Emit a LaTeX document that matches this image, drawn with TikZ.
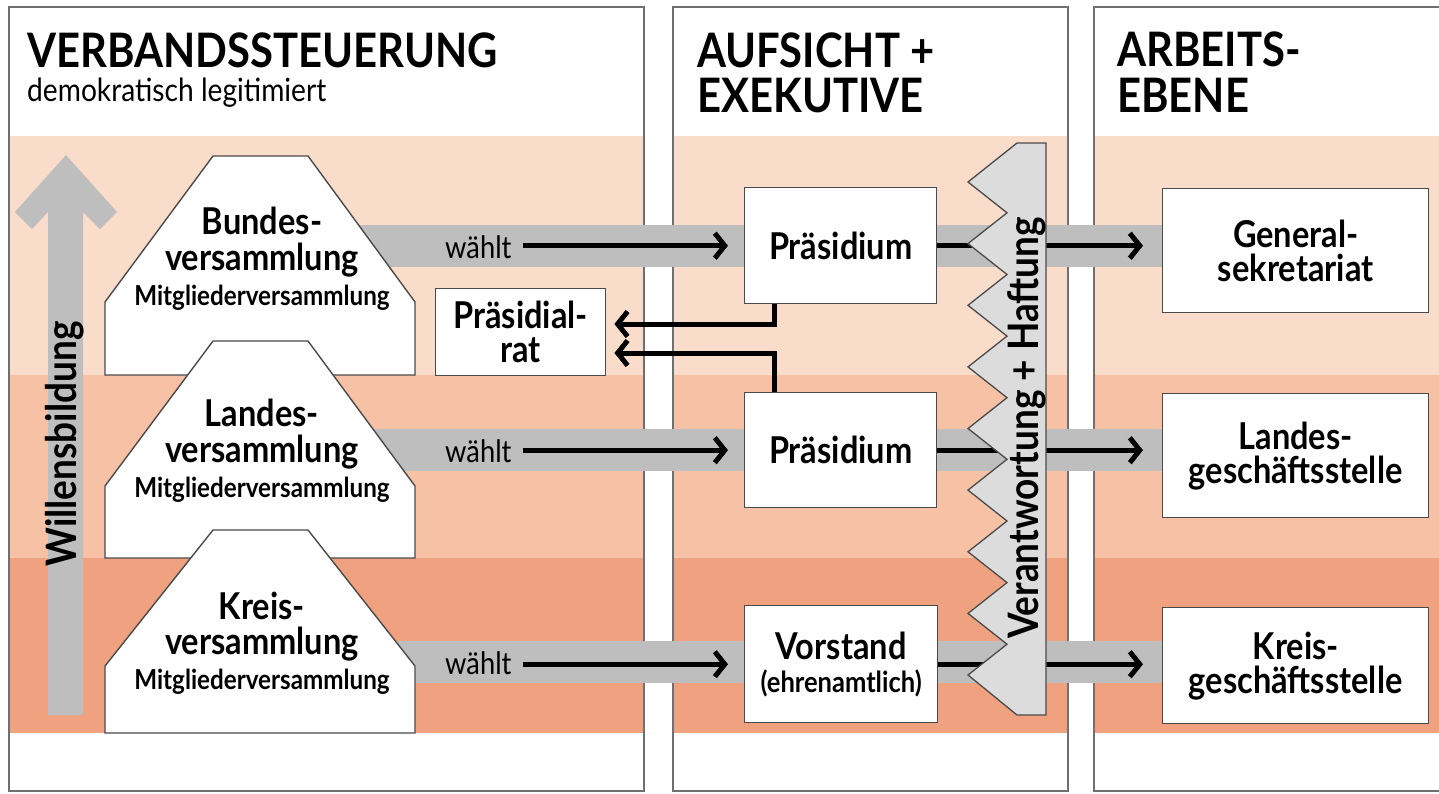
\documentclass[tikz,border=0pt]{standalone}
\usepackage{fontspec}
\setmainfont{Lato}[FakeStretch=0.88]
\usetikzlibrary{arrows.meta}
\definecolor{bandA}{HTML}{FADCCA}
\definecolor{bandB}{HTML}{F6C1A5}
\definecolor{bandC}{HTML}{F0A280}
\definecolor{gband}{HTML}{BEBEBE}
\definecolor{zigfill}{HTML}{DCDCDC}
\definecolor{pborder}{HTML}{707070}
\definecolor{bborder}{HTML}{4A4A4A}
\newcommand\fTitle{\fontsize{47.5}{47.5}\selectfont\bfseries}
\newcommand\fSub{\fontsize{32}{32}\selectfont}
\newcommand\fBig{\fontsize{37}{34}\selectfont\bfseries}
\newcommand\fMit{\fontsize{27.5}{27.5}\selectfont\bfseries}
\newcommand\fWa{\fontsize{31}{31}\selectfont}
\newcommand\fRot{\fontsize{42}{42}\selectfont\bfseries}
\tikzset{
  panel/.style={draw=pborder, line width=1.5pt},
  box/.style={draw=bborder, line width=1.4pt, fill=white, inner sep=0pt, align=center, anchor=north west, font=\fBig},
  shapeline/.style={draw=bborder, line width=1.4pt, fill=white},
  arr/.style={line width=5pt, -{Straight Barb[length=10pt,width=25pt]}},
  lbl/.style={inner sep=0pt, anchor=base},
  ttl/.style={inner sep=0pt, anchor=base west, font=\fTitle},
  wa/.style={inner sep=0pt, anchor=base west, font=\fWa},
}
\begin{document}
\begin{tikzpicture}[x=1pt,y=-1pt]
\useasboundingbox (0,0) rectangle (1439,793);
\fill[white] (0,0) rectangle (1439,793);
% colour stripes inside the panels
\begin{scope}
\clip (9,7) rectangle (644,791) (673,7) rectangle (1068,791) (1094,7) rectangle (1450,791);
\fill[bandA] (0,136) rectangle (1450,375);
\fill[bandB] (0,375) rectangle (1450,558);
\fill[bandC] (0,558) rectangle (1450,733);
\end{scope}
\draw[panel] (9,7) rectangle (644,791);
\draw[panel] (673,7) rectangle (1068,791);
\draw[panel] (1094,7) rectangle (1450,791);
% titles
\node[ttl] (t1) at (27,67) {VERBANDSSTEUERUNG};
\node[inner sep=0pt, anchor=base west, font=\fSub] (t1s) at (27,101) {demokratisch legitimiert};
\node[ttl] (t2) at (697,67) {AUFSICHT +};
\node[ttl] (t2b) at (697,112) {EXEKUTIVE};
\node[ttl] (t3) at (1117,66) {ARBEITS-};
\node[ttl] (t3b) at (1117,112) {EBENE};
% grey bands
\fill[gband] (300,225) rectangle (744,267);
\fill[gband] (936,225) rectangle (1162,267);
\fill[gband] (300,429) rectangle (744,471);
\fill[gband] (936,429) rectangle (1162,471);
\fill[gband] (300,641) rectangle (744,683);
\fill[gband] (936,641) rectangle (1162,683);
% Willensbildung arrow
\fill[gband] (66,155) -- (15,212) -- (32,229) -- (48,212) -- (48,715) -- (83,715) -- (83,212) -- (100,229) -- (117,212) -- cycle;
\node[rotate=90, inner sep=0pt, font=\fRot] (wb) at (65,444) {Willensbildung};
% assemblies
\path[shapeline] (213,156) -- (308,156) -- (415,302) -- (415,375) -- (105,375) -- (105,302) -- cycle;
\node[lbl, font=\fBig] (bv1) at (262,234) {Bundes-};
\node[lbl, font=\fBig] (bv2) at (262,270) {versammlung};
\node[lbl, font=\fMit] (bv3) at (262,305) {Mitgliederversammlung};
\path[shapeline] (213,341) -- (308,341) -- (415,486) -- (415,558) -- (105,558) -- (105,486) -- cycle;
\node[lbl, font=\fBig] (lv1) at (262,426) {Landes-};
\node[lbl, font=\fBig] (lv2) at (262,462) {versammlung};
\node[lbl, font=\fMit] (lv3) at (262,497) {Mitgliederversammlung};
\path[shapeline] (213,530) -- (308,530) -- (415,666) -- (415,733) -- (105,733) -- (105,666) -- cycle;
\node[lbl, font=\fBig] (kv1) at (262,619) {Kreis-};
\node[lbl, font=\fBig] (kv2) at (262,654) {versammlung};
\node[lbl, font=\fMit] (kv3) at (262,689) {Mitgliederversammlung};
% boxes
\node[box, minimum width=192pt, minimum height=116pt] (pr1) at (744,187) {Präsidium};
\node[box, minimum width=192pt, minimum height=115pt] (pr2) at (744,392) {Präsidium};
\node[box, minimum width=193pt, minimum height=117pt] (vor) at (744,605) {Vorstand\\[-1pt]{\fontsize{29}{29}\selectfont\bfseries(ehrenamtlich)}};
\node[box, minimum width=170pt, minimum height=87pt] (prat) at (435,288) {Präsidial-\\rat};
\node[box, minimum width=266pt, minimum height=124pt] (gen) at (1162,188) {General-\\sekretariat};
\node[box, minimum width=266pt, minimum height=124pt] (lgs) at (1162,393) {Landes-\\geschäftsstelle};
\node[box, minimum width=266pt, minimum height=116pt] (kgs) at (1162,607) {Kreis-\\geschäftsstelle};
% wählt arrows
\node[wa] (w1) at (445,258) {wählt};
\node[wa] (w2) at (445,462) {wählt};
\node[wa] (w3) at (445,674) {wählt};
\draw[arr, shorten >=16pt] ([xshift=11pt]w1.east |- pr1.west) -- (pr1.west);
\draw[arr, shorten >=16pt] ([xshift=11pt]w2.east |- pr2.west) -- (pr2.west);
\draw[arr, shorten >=16pt] ([xshift=11pt]w3.east |- vor.west) -- (vor.west);
% to Präsidialrat
\coordinate (c1) at (774,324);
\coordinate (c2) at (774,353);
\draw[arr, shorten >=8pt] (pr1.south -| c1) |- (prat.east |- c1);
\draw[arr, shorten >=8pt] (pr2.north -| c2) |- (prat.east |- c2);
% to working level
\draw[arr, shorten >=19pt] (pr1.east) -- (gen.west |- pr1.east);
\draw[arr, shorten >=19pt] (pr2.east) -- (lgs.west |- pr2.east);
\draw[arr, shorten >=19pt] (vor.east) -- (kgs.west |- vor.east);
% responsibility zigzag
\path[draw=bborder, line width=1.3pt, fill=zigfill]
  (1017,143) -- (968,182) -- (1007,212.8) -- (968,243.6) -- (1007,274.5) -- (968,305.3)
  -- (1007,336.1) -- (968,366.9) -- (1007,397.7) -- (968,428.5) -- (1007,459.3)
  -- (968,490.1) -- (1007,521) -- (968,551.8) -- (1007,582.6) -- (968,613.4)
  -- (1007,644.2) -- (968,675) -- (1017,715) -- (1046,715) -- (1046,143) -- cycle;
\node[rotate=90, inner sep=0pt, font=\fRot] (vh) at (1027,428) {Verantwortung + Haftung};
\end{tikzpicture}
\end{document}
